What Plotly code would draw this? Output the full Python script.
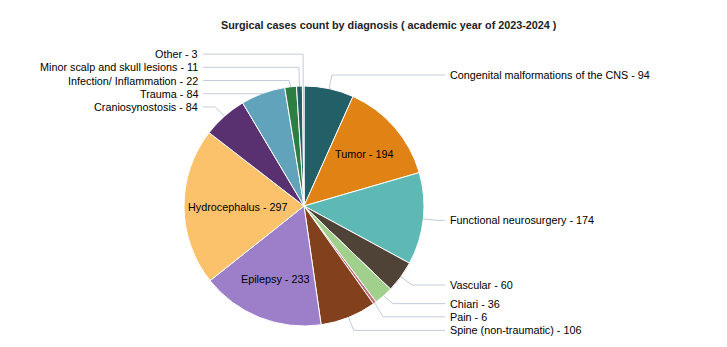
import math
import plotly.graph_objects as go

# Surgical cases by diagnosis, academic year 2023-2024 (clockwise from 12 o'clock)
diagnoses = [
    "Congenital malformations of the CNS",
    "Tumor",
    "Functional neurosurgery",
    "Vascular",
    "Chiari",
    "Pain",
    "Spine (non-traumatic)",
    "Epilepsy",
    "Hydrocephalus",
    "Craniosynostosis",
    "Trauma",
    "Infection/ Inflammation",
    "Minor scalp and skull lesions",
    "Other",
]
cases = [94, 194, 174, 60, 36, 6, 106, 233, 297, 84, 84, 22, 11, 3]

slice_colors = [
    "#235f66", "#e08214", "#5eb9b4", "#4f4237", "#a1cf8c", "#c26a7a",
    "#83401d", "#9d7ec9", "#fbc16b", "#5a3170", "#62a3bc", "#2e7d42",
    "#235f66", "#e08214",
]
inside_labels = {"Tumor", "Hydrocephalus", "Epilepsy"}

# ---- layout constants (pixels) ----
W, H = 727, 347
CX, CY, R = 304, 206, 120
LABEL_R = 134          # radius where connectors bend
INNER_R = 79           # radius for labels drawn inside slices
LEFT_TEXT_X = 200
RIGHT_TEXT_X = 448
LINE_GAP = 3
ROW = 13.2             # minimum vertical spacing between outside labels
FONT = "Liberation Sans, Arial, sans-serif"
FS = 10.8
LINE_COLOR = "#c4cbd8"


def px(x):
    return x / W


def py(y):
    return 1 - y / H


total = sum(cases)
mid_angles = []
acc = 0
for v in cases:
    mid_angles.append((acc + v / 2) / total * 2 * math.pi)
    acc += v


def spread(items):
    """Push overlapping labels apart, keeping each cluster centred on its targets."""
    groups = [[it] for it in sorted(items)]

    def positions(g):
        mean = sum(t for t, _ in g) / len(g)
        n = len(g)
        return [mean + (k - (n - 1) / 2) * ROW for k in range(n)]

    merged = True
    while merged:
        merged = False
        for k in range(len(groups) - 1):
            if positions(groups[k + 1])[0] - positions(groups[k])[-1] < ROW:
                groups[k] = groups[k] + groups[k + 1]
                del groups[k + 1]
                merged = True
                break
    out = {}
    for g in groups:
        for (t, idx), y in zip(g, positions(g)):
            out[idx] = y
    return out


left, right = [], []
for i, (name, a) in enumerate(zip(diagnoses, mid_angles)):
    if name in inside_labels:
        continue
    target = CY - LABEL_R * math.cos(a)
    (right if math.sin(a) >= 0 else left).append((target, i))
label_y = {}
label_y.update(spread(left))
label_y.update(spread(right))

fig = go.Figure(
    go.Pie(
        labels=diagnoses,
        values=cases,
        sort=False,
        direction="clockwise",
        rotation=0,
        marker=dict(colors=slice_colors, line=dict(color="#ffffff", width=1)),
        textinfo="none",
        hoverinfo="label+value",
        showlegend=False,
        domain=dict(x=[px(CX - R), px(CX + R)], y=[py(CY + R), py(CY - R)]),
    )
)

annotations = []
shapes = []
for i, (name, v, a) in enumerate(zip(diagnoses, cases, mid_angles)):
    text = f"{name} - {v}"
    s, c = math.sin(a), math.cos(a)
    if name in inside_labels:
        w = len(text) * 5.2
        x = CX + INNER_R * s
        y = CY - INNER_R * c
        x = max(x, CX - R + 5 + w / 2)
        x = min(x, CX + R - 5 - w / 2)
        annotations.append(dict(
            x=px(x), y=py(y), xref="paper", yref="paper", text=text,
            showarrow=False, xanchor="center", yanchor="middle",
            font=dict(family=FONT, size=FS, color="#000000"),
        ))
        continue
    y = label_y[i]
    x0, y0 = CX + R * s, CY - R * c
    x1 = CX + LABEL_R * s
    if s >= 0:
        x2 = RIGHT_TEXT_X - LINE_GAP
        tx, anchor = RIGHT_TEXT_X, "left"
    else:
        x2 = LEFT_TEXT_X + LINE_GAP
        tx, anchor = LEFT_TEXT_X, "right"
    shapes.append(dict(
        type="path", xref="paper", yref="paper",
        path=f"M {px(x0)},{py(y0)} L {px(x1)},{py(y)} L {px(x2)},{py(y)}",
        line=dict(color=LINE_COLOR, width=1),
    ))
    annotations.append(dict(
        x=px(tx), y=py(y), xref="paper", yref="paper", text=text,
        showarrow=False, xanchor=anchor, yanchor="middle",
        font=dict(family=FONT, size=FS, color="#000000"),
    ))

annotations.append(dict(
    x=px(389), y=py(25), xref="paper", yref="paper",
    text="<b>Surgical cases count by diagnosis ( academic year of 2023-2024 )</b>",
    showarrow=False, xanchor="center", yanchor="middle",
    font=dict(family=FONT, size=10.8, color="#222222"),
))

fig.update_layout(
    width=W, height=H,
    margin=dict(l=0, r=0, t=0, b=0),
    paper_bgcolor="#ffffff",
    plot_bgcolor="#ffffff",
    annotations=annotations,
    shapes=shapes,
)

fig.write_html("out.html")
